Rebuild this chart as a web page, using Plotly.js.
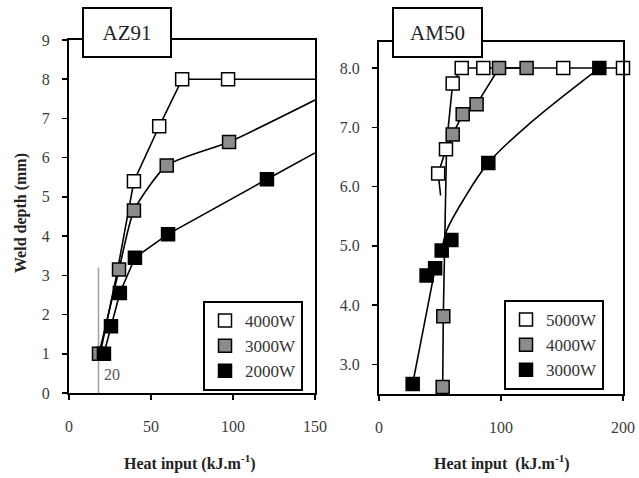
<!DOCTYPE html>
<html>
<head>
<meta charset="utf-8">
<script src="https://cdn.plot.ly/plotly-3.0.1.min.js"></script>
<style>html,body{margin:0;padding:0;background:#fff;}#chart{width:639px;height:478px;}</style>
</head>
<body>
<div id="chart"></div>
<script>
// ---- AZ91 (left panel) ----
const az91Names = ["4000W", "3000W", "2000W"];
const az4000X = [39.6, 55, 69, 97];
const az4000Y = [5.4, 6.8, 8.0, 8.0];
const az4000CurveX = [19, 29, 39.6, 55, 69, 97, 150];
const az4000CurveY = [1.0, 3.0, 5.4, 6.8, 8.0, 8.0, 8.0];

const az3000X = [18.3, 30.5, 39.6, 59.6, 97.6];
const az3000Y = [1.0, 3.15, 4.65, 5.8, 6.4];
const az3000CurveX = [18.3, 30.5, 39.6, 59.6, 97.6, 150];
const az3000CurveY = [1.0, 3.15, 4.65, 5.8, 6.4, 7.47];

const az2000X = [21.3, 25.6, 31, 40.2, 60.4, 120.7];
const az2000Y = [1.0, 1.7, 2.55, 3.45, 4.05, 5.45];
const az2000CurveX = [21.3, 25.6, 31, 40.2, 60.4, 120.7, 150];
const az2000CurveY = [1.0, 1.7, 2.55, 3.45, 4.05, 5.45, 6.12];

const refLineX = [18, 18];
const refLineY = [0, 3.2];
const refLabel = "20";

// ---- AM50 (right panel) ----
const am50Names = ["5000W", "4000W", "3000W"];
const am5000X = [48.5, 54.9, 60.4, 67.8, 85.5, 151, 200];
const am5000Y = [6.22, 6.63, 7.74, 8.0, 8.0, 8.0, 8.0];
const am5000CurveX = [50.5, 48.5, 54.9, 60.4, 67.8, 85.5, 151, 200];
const am5000CurveY = [5.85, 6.22, 6.63, 7.74, 8.0, 8.0, 8.0, 8.0];

const am4000X = [52.2, 52.7, 60.4, 68.6, 80, 98.4, 121];
const am4000Y = [2.62, 3.81, 6.88, 7.22, 7.39, 8.0, 8.0];
const am4000CurveX = [52.2, 52.7, 55.3, 60.4, 68.6, 80, 98.4, 121];
const am4000CurveY = [2.62, 3.81, 6.6, 6.88, 7.22, 7.39, 8.0, 8.0];

const am3000X = [27.6, 39, 46, 51.4, 59.3, 89.6, 180.6];
const am3000Y = [2.67, 4.5, 4.62, 4.92, 5.1, 6.4, 8.0];
const am3000LowX = [27.6, 46];
const am3000LowY = [2.67, 4.62];
const am3000CurveX = [52, 55.5, 69, 89.6, 123.8, 180.6];
const am3000CurveY = [4.98, 5.26, 5.77, 6.4, 7.07, 8.0];

const fillColors = ["#ffffff", "#8c8c8c", "#000000"];
const serif = "'Liberation Serif', 'Times New Roman', serif";

function curve(x, y, xa, ya, shape, smooth) {
  return {x: x, y: y, xaxis: xa, yaxis: ya, mode: "lines", type: "scatter",
    line: {color: "#000", width: 1.6, shape: shape || "spline", smoothing: smooth || 0.6},
    showlegend: false, hoverinfo: "skip", cliponaxis: true};
}
function pts(x, y, xa, ya, name, color, legend, rank) {
  return {x: x, y: y, xaxis: xa, yaxis: ya, mode: "markers", type: "scatter", name: name,
    marker: {symbol: "square", size: 13, color: color, line: {color: "#000", width: 1.5}},
    legend: legend, legendrank: rank, cliponaxis: false};
}

const traces = [
  curve(az4000CurveX, az4000CurveY, "x", "y", "linear"),
  curve(az3000CurveX, az3000CurveY, "x", "y"),
  curve(az2000CurveX, az2000CurveY, "x", "y", "linear"),
  {x: refLineX, y: refLineY, xaxis: "x", yaxis: "y", mode: "lines", type: "scatter",
    line: {color: "#a0a0a0", width: 1.5}, showlegend: false, hoverinfo: "skip"},
  pts(az3000X, az3000Y, "x", "y", az91Names[1], fillColors[1], "legend", 2),
  pts(az2000X, az2000Y, "x", "y", az91Names[2], fillColors[2], "legend", 3),
  pts(az4000X, az4000Y, "x", "y", az91Names[0], fillColors[0], "legend", 1),

  curve(am5000CurveX, am5000CurveY, "x2", "y2", "linear"),
  curve(am4000CurveX, am4000CurveY, "x2", "y2", "linear"),
  curve(am3000LowX, am3000LowY, "x2", "y2", "linear"),
  curve(am3000CurveX, am3000CurveY, "x2", "y2", "spline", 1.0),
  pts(am4000X, am4000Y, "x2", "y2", am50Names[1], fillColors[1], "legend2", 2),
  pts(am3000X, am3000Y, "x2", "y2", am50Names[2], fillColors[2], "legend2", 3),
  pts(am5000X, am5000Y, "x2", "y2", am50Names[0], fillColors[0], "legend2", 1)
];

function tickFont() { return {family: serif, size: 16, color: "#3c3c3c"}; }
function axis(extra) {
  return Object.assign({showline: true, mirror: true, linewidth: 2, linecolor: "#000",
    ticks: "outside", ticklen: 5, tickwidth: 1.5, tickcolor: "#000",
    showgrid: false, zeroline: false, tickfont: tickFont(), fixedrange: true}, extra);
}
function legendBox(extra) {
  return Object.assign({bordercolor: "#000", borderwidth: 2, bgcolor: "#fff",
    font: {family: serif, size: 17, color: "#333"}, xanchor: "left", yanchor: "top",
    tracegroupgap: 0, itemwidth: 30}, extra);
}

const layout = {
  width: 639, height: 478,
  margin: {l: 0, r: 0, t: 0, b: 0},
  font: {family: serif, size: 15, color: "#333"},
  paper_bgcolor: "#fff", plot_bgcolor: "#fff",
  xaxis: axis({domain: [69/639, 315/639], range: [0, 150],
    tickvals: [0, 50, 100, 150], anchor: "y", ticklabelstandoff: 13}),
  yaxis: axis({domain: [1 - 393/478, 1 - 40/478], range: [0, 9],
    tickvals: [0,1,2,3,4,5,6,7,8,9], anchor: "x", ticklabelstandoff: 9}),
  xaxis2: axis({domain: [379/639, 623/639], range: [0, 200],
    tickvals: [0, 100, 200], anchor: "y2", ticklabelstandoff: 13}),
  yaxis2: axis({domain: [1 - 394/478, 1 - 42/478], range: [2.5, 8.44],
    tickvals: [3, 4, 5, 6, 7, 8], tickformat: ".1f", anchor: "x2", ticklabelstandoff: 9}),
  legend: legendBox({x: 203/639, y: 1 - 301/478}),
  legend2: legendBox({x: 504/639, y: 1 - 300/478}),
  annotations: [
    {text: "AZ91", xref: "paper", yref: "paper", x: 127/639, y: 1 - 32.5/478,
      xanchor: "center", yanchor: "middle",
      showarrow: false, font: {family: serif, size: 21, color: "#222"},
      bgcolor: "#fff", bordercolor: "#000", borderwidth: 2, width: 84, height: 45},
    {text: "AM50", xref: "paper", yref: "paper", x: 437.5/639, y: 1 - 32.5/478,
      xanchor: "center", yanchor: "middle",
      showarrow: false, font: {family: serif, size: 21, color: "#222"},
      bgcolor: "#fff", bordercolor: "#000", borderwidth: 2, width: 85, height: 45},
    {text: refLabel, xref: "x", yref: "y", x: 26.5, y: 0.46, showarrow: false,
      font: {family: serif, size: 16, color: "#555"}},
    {text: "<b>Weld depth (mm)</b>", xref: "paper", yref: "paper", x: 21/639, y: 1 - 213/478,
      xanchor: "center", yanchor: "middle",
      textangle: -90, showarrow: false, font: {family: serif, size: 16, color: "#222"}},
    {text: "<b>Heat input (kJ.m<sup>-1</sup>)</b>", xref: "paper", yref: "paper", x: 190/639, y: 1 - 462/478,
      xanchor: "center", yanchor: "middle",
      showarrow: false, font: {family: serif, size: 16, color: "#222"}},
    {text: "<b>Heat input  (kJ.m<sup>-1</sup>)</b>", xref: "paper", yref: "paper", x: 502/639, y: 1 - 462/478,
      xanchor: "center", yanchor: "middle",
      showarrow: false, font: {family: serif, size: 16, color: "#222"}}
  ]
};

Plotly.newPlot("chart", traces, layout, {displayModeBar: false, staticPlot: true});
</script>
</body>
</html>
